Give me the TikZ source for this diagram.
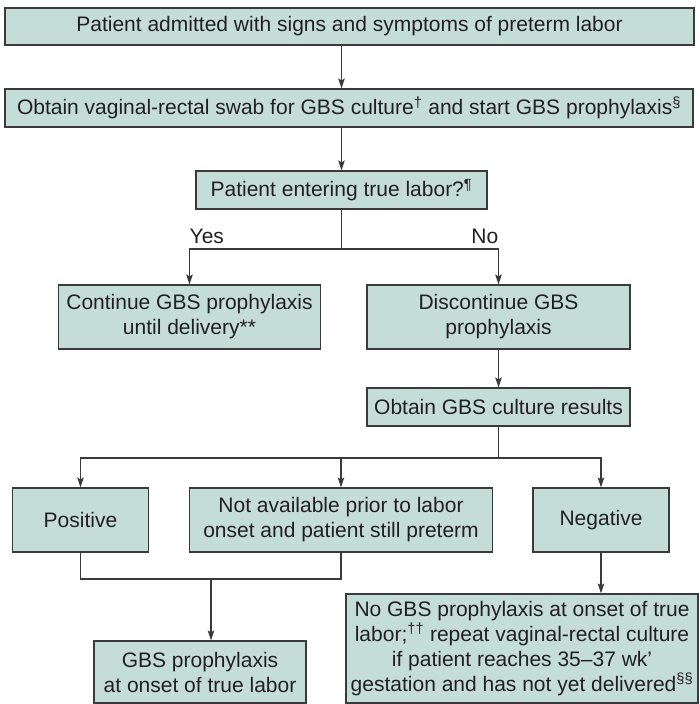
\documentclass[tikz,border=0pt]{standalone}
\usepackage{fontspec}
\setmainfont{Liberation Sans}
\usetikzlibrary{arrows.meta}
\definecolor{boxfill}{HTML}{C4DED7}
\definecolor{boxline}{HTML}{3A3A3A}
\definecolor{txt}{HTML}{231F20}
\begin{document}
\begin{tikzpicture}[x=1pt,y=-1pt,
  every node/.style={font=\fontsize{21}{25}\selectfont, text=txt},
  box/.style={draw=boxline, line width=1.1pt, fill=boxfill, inner sep=0pt, align=center},
  conn/.style={draw=boxline, line width=1.1pt},
  arr/.style={conn, -{Stealth[length=10pt,width=6.5pt,inset=2pt]}}]
\useasboundingbox (0,0) rectangle (699,704);

\node[box, minimum width=689pt, minimum height=37pt] (b1) at (349.5,26.5) {Patient admitted with signs and symptoms of preterm labor};
\node[box, minimum width=688pt, minimum height=38pt] (b2) at (349,108) {Obtain vaginal-rectal swab for GBS culture\textsuperscript{†} and start GBS prophylaxis\textsuperscript{§}};
\node[box, minimum width=291pt, minimum height=38pt] (b3) at (341.5,190) {Patient entering true labor?\textsuperscript{¶}};

\node[anchor=west, inner sep=0pt] (yes) at (189.5,236) {Yes};
\node[anchor=east, inner sep=0pt] (no) at (498.5,236) {No};

\node[box, minimum width=262pt, minimum height=64pt] (cont) at (189.5,317) {Continue GBS prophylaxis\\until delivery**};
\node[box, minimum width=263pt, minimum height=64pt] (disc) at (498.5,317) {Discontinue GBS\\prophylaxis};
\node[box, minimum width=263pt, minimum height=38pt] (cult) at (498.5,407) {Obtain GBS culture results};

\node[box, minimum width=136.5pt, minimum height=64pt] (pos) at (80.5,520) {Positive};
\node[box, minimum width=303pt, minimum height=64pt] (nota) at (341,520) {Not available prior to labor\\onset and patient still preterm};
\node[box, minimum width=136pt, minimum height=64pt] (neg) at (601,520) {Negative};

\node[box, minimum width=212pt, minimum height=62pt] (gbs) at (200,672) {GBS prophylaxis\\at onset of true labor};
\node[box, minimum width=352pt, minimum height=109pt] (nogbs) at (522,648.5) {No GBS prophylaxis at onset of true\\labor;\textsuperscript{††} repeat vaginal-rectal culture\\if patient reaches 35–37 wk’\\gestation and has not yet delivered\textsuperscript{§§}};

\coordinate (s1) at (341.5,249);
\coordinate (s2) at (498.5,458);
\coordinate (j) at (211,579);

\draw[arr] (b1.south -| b3) -- (b2.north -| b3);
\draw[arr] (b2.south -| b3) -- (b3.north);
\draw[conn] (b3.south) -- (s1);
\draw[arr] (s1) -| (cont.north);
\draw[arr] (s1) -| (disc.north);
\draw[arr] (disc.south) -- (cult.north);
\draw[conn] (cult.south) -- (s2);
\draw[arr] (s2) -| (pos.north);
\draw[arr] (s2) -| (nota.north);
\draw[arr] (s2) -| (neg.north);
\draw[conn] (pos.south) |- (j) -| (nota.south);
\draw[arr] (j) -- (gbs.north -| j);
\draw[arr] (neg.south) -- (nogbs.north -| neg);
\end{tikzpicture}
\end{document}
